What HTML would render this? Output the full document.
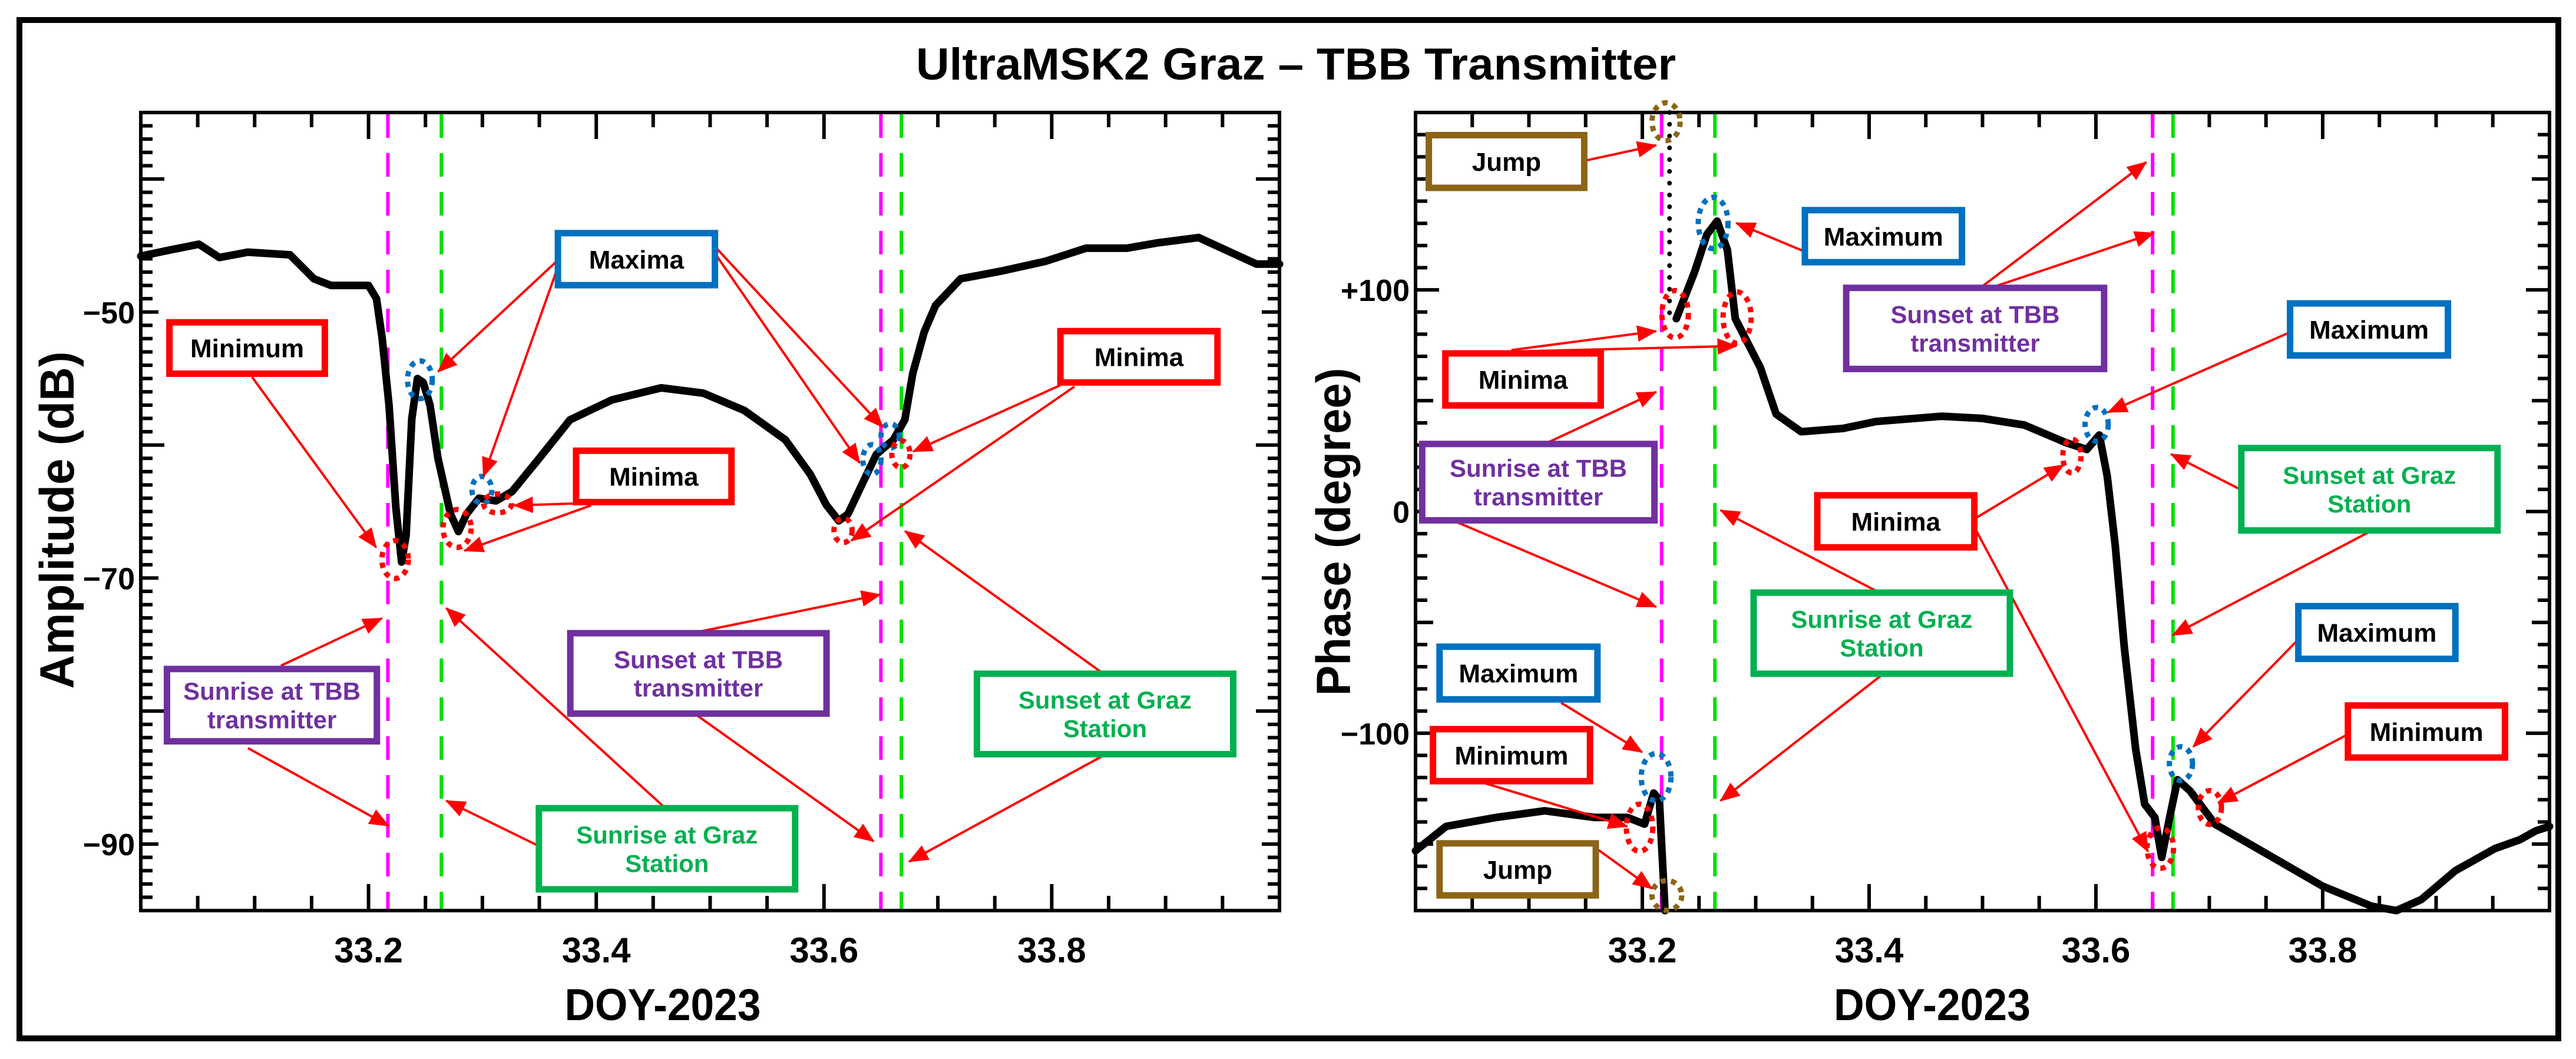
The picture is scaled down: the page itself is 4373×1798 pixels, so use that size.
<!DOCTYPE html>
<html><head><meta charset="utf-8"><style>
html,body{margin:0;padding:0;background:#fff}
svg{display:block}
text{font-family:"Liberation Sans",sans-serif;font-weight:bold}
</style></head><body>
<svg id="s" width="4373" height="1798" viewBox="0 0 4373 1798" xmlns="http://www.w3.org/2000/svg">
<defs><marker id="ah" markerWidth="8" markerHeight="8" refX="7" refY="4" orient="auto" markerUnits="userSpaceOnUse" viewBox="0 0 8 8"><path d="M0,0 L8,4 L0,8 z" fill="#ff0000"/></marker>
<marker id="ah2" markerWidth="34" markerHeight="28" refX="32" refY="14" orient="auto" markerUnits="userSpaceOnUse"><path d="M0,0 L34,14 L0,28 z" fill="#ff0000"/></marker></defs>
<rect x="33" y="34" width="4310" height="1729" fill="none" stroke="#000" stroke-width="10"/>
<text x="2200" y="135" text-anchor="middle" font-size="76" textLength="1290" lengthAdjust="spacingAndGlyphs">UltraMSK2 Graz – TBB Transmitter</text>
<g id="g"></g>
</svg>
<script>
// ---- data ----
const ampDoy=[33.0,33.022,33.051,33.069,33.094,33.131,33.152,33.167,33.2,33.207,33.212,33.218,33.224,33.229,33.233,33.238,33.243,33.248,33.254,33.261,33.272,33.279,33.286,33.297,33.312,33.326,33.348,33.377,33.414,33.457,33.494,33.53,33.566,33.588,33.602,33.613,33.621,33.632,33.646,33.661,33.671,33.678,33.688,33.698,33.72,33.757,33.794,33.83,33.866,33.893,33.929,33.962,33.98,34.0];
const ampDb=[-45.8,-45.4,-44.9,-45.9,-45.5,-45.7,-47.5,-48,-48,-49,-52,-57,-64.7,-68.8,-66.8,-58,-55,-55.3,-57,-61,-65.2,-66.5,-65.2,-64,-64.2,-63.5,-61.2,-58.1,-56.6,-55.7,-56.1,-57.4,-59.6,-62.2,-64.5,-65.7,-65.2,-63.2,-60.7,-59.6,-58.1,-54.6,-51.5,-49.5,-47.5,-46.9,-46.2,-45.2,-45.2,-44.8,-44.4,-45.7,-46.4,-46.4];
const phDoyA=[33.0,33.027,33.071,33.114,33.158,33.187,33.202,33.21,33.215,33.22];
const phDegA=[-153,-142,-138,-135,-138,-138,-141,-127,-130,-181];
const phDoyB=[33.23,33.246,33.257,33.266,33.275,33.282,33.293,33.304,33.318,33.34,33.377,33.406,33.464,33.5,33.537,33.574,33.592,33.603,33.61,33.617,33.625,33.635,33.643,33.652,33.658,33.665,33.672,33.683,33.705,33.756,33.8,33.843,33.865,33.887,33.917,33.952,33.974,33.988,34.0];
const phDegB=[87,108,125,131,118,87,76,65,44,36,37.5,40.6,43,42,39,31,28,34.5,16,-15,-61,-107,-132,-138,-156,-138,-121,-126,-141,-156,-169,-178,-181,-175,-162,-152,-148,-144,-142];
const jumpDoy=[33.224,33.224];
const jumpDeg=[180,88];
const xTickLabels=["33.2","33.4","33.6","33.8"];
const xTickVals=[33.2,33.4,33.6,33.8];
const ampTickVals=[-50,-70,-90];
const ampTickLabels=["−50","−70","−90"];
const phTickVals=[100,0,-100];
const phTickLabels=["+100","0","−100"];
const sunriseTBB=33.217, sunriseGraz=33.264, sunsetTBB=33.650, sunsetGraz=33.668;

const NS="http://www.w3.org/2000/svg";
const G=document.getElementById('g');
function mk(tag,attrs,parent){const e=document.createElementNS(NS,tag);for(const k in attrs)e.setAttribute(k,attrs[k]);(parent||G).appendChild(e);return e;}

const P={
 amp:{x0:239,x1:2172,y0:191,y1:1546,v0:-35,v1:-95},
 ph:{x0:2403,x1:4328,y0:191,y1:1546,v0:180,v1:-180}
};
function sx(p,d){return p.x0+(d-33)/(1)*(p.x1-p.x0);}
function sy(p,v){return p.y0+(v-p.v0)/(p.v1-p.v0)*(p.y1-p.y0);}

function axes(p,name,minorStep,medStep,majorStep){
 const g=mk('g',{});
 
 
 mk('rect',{x:p.x0,y:p.y0,width:p.x1-p.x0,height:p.y1-p.y0,fill:'none',stroke:'#000','stroke-width':6},g);
 let d='';
 for(let i=0;i<=20;i++){const x=p.x0+i*(p.x1-p.x0)/20;const L=(i%4===0)?45:25;d+=`M${x},${p.y1}v${-L}M${x},${p.y0}v${L}`;}
 const lo=Math.min(p.v0,p.v1),hi=Math.max(p.v0,p.v1);
 for(let v=Math.ceil(lo/minorStep)*minorStep;v<=hi;v+=minorStep){
  const y=sy(p,v);let L=20;
  if(Math.abs(v%majorStep)<1e-6)L=40;else if(Math.abs(v%medStep)<1e-6)L=30;
  d+=`M${p.x0},${y}h${L}M${p.x1},${y}h${-L}`;
 }
 mk('path',{d:d,stroke:'#000','stroke-width':6,fill:'none'},g);
}
axes(P.amp,'amplitude',1,10,20);
axes(P.ph,'phase',10,50,100);

function ticklabels(p,pre,yVals,yLabs){
 xTickVals.forEach((v,i)=>{const t=mk('text',{x:sx(p,v),y:1634,'text-anchor':'middle','font-size':60});t.textContent=xTickLabels[i];
  
  });
 yVals.forEach((v,i)=>{const t=mk('text',{x:p.x0-10,y:sy(p,v)+19,'text-anchor':'end','font-size':52});t.textContent=yLabs[i];
  
  });
}
ticklabels(P.amp,'amplitude',ampTickVals,ampTickLabels);
ticklabels(P.ph,'phase',phTickVals,phTickLabels);

function label(x,y,txt,rot,len,name,size){
 const t=mk('text',{x:x,y:y,'text-anchor':'middle','font-size':size,textLength:len,lengthAdjust:'spacingAndGlyphs'});
 if(rot)t.setAttribute('transform',`rotate(-90 ${x} ${y})`);
 t.textContent=txt;
 
 
}
label(125,883,'Amplitude (dB)',true,573,'amplitude-y-axis-title',82);
label(2292,903,'Phase (degree)',true,557,'phase-y-axis-title',82);
label(1125,1732,'DOY-2023',false,333,'amplitude-x-axis-title',76);
label(3280,1732,'DOY-2023',false,334,'phase-x-axis-title',76);

// day/night lines
[[P.amp,'amplitude'],[P.ph,'phase']].forEach(([p,n])=>{
 [[sunriseTBB,'#ff00ff','sunrise-tbb-line'],[sunsetTBB,'#ff00ff','sunset-tbb-line'],[sunriseGraz,'#00e000','sunrise-graz-line'],[sunsetGraz,'#00e000','sunset-graz-line']].forEach(([d,c,nm])=>{
  const l=mk('line',{x1:sx(p,d),x2:sx(p,d),y1:p.y0+3,y2:p.y1-3,stroke:c,'stroke-width':6,'stroke-dasharray':'40 26'});
  
  
 });
});

function series(p,xs,ys,name,extra){
 const d=xs.map((x,i)=>(i?'L':'M')+sx(p,x).toFixed(1)+','+sy(p,Math.max(Math.min(ys[i],p.v0),p.v1)).toFixed(1)).join('');
 const e=mk('path',Object.assign({d:d,fill:'none',stroke:'#000','stroke-width':13,'stroke-linejoin':'round','stroke-linecap':'round'},extra||{}));
 
 
}
series(P.amp,ampDoy,ampDb,'amplitude-line');
series(P.ph,phDoyA,phDegA,'phase-line-before-jump');
series(P.ph,phDoyB,phDegB,'phase-line-after-jump');
series(P.ph,jumpDoy,jumpDeg,'phase-jump-dots',{'stroke-width':8,'stroke-dasharray':'0 20'});

// annotations (coords measured in zoom views)
function L(x,y){return [x/0.7127,y/0.8716];}
function R(x,y){return [2173+x/0.7127,y/0.8716];}
const COL={red:'#ff0000',blue:'#0070c0',green:'#00b050',purple:'#7030a0',brown:'#8c6418'};
const TXT={red:'#000',blue:'#000',brown:'#000',green:'#00b050',purple:'#7030a0'};
function box(f,x1,y1,x2,y2,col,lines,name){
 const a=f(x1,y1),b=f(x2,y2);
 const g=mk('g',{});
 
 
 mk('rect',{x:a[0],y:a[1],width:b[0]-a[0],height:b[1]-a[1],fill:'#fff',stroke:COL[col],'stroke-width':11},g);
 const cx=(a[0]+b[0])/2,cy=(a[1]+b[1])/2;
 const fs=lines.length>1?42:44;
 lines.forEach((s,i)=>{const t=mk('text',{x:cx,y:cy+fs*0.36+(i-(lines.length-1)/2)*fs*1.15,'text-anchor':'middle','font-size':fs,fill:TXT[col]},g);t.textContent=s;});
}
function arrow(f,x1,y1,x2,y2){
 const a=f(x1,y1),b=f(x2,y2);
 const l=mk('line',{x1:a[0],y1:a[1],x2:b[0],y2:b[1],stroke:'#ff0000','stroke-width':4,'marker-end':'url(#ah2)'});
 
 
}
function ring(f,x,y,rx,ry,col){
 const a=f(x,y);
 const e=mk('ellipse',{cx:a[0],cy:a[1],rx:rx/0.7127,ry:ry/0.8716,fill:'none',stroke:col,'stroke-width':9,'stroke-dasharray':'9 9'});
 
 
}
// left rings
ring(L,478,828,16,28,'#ff0000');ring(L,508,562,15,28,'#0070c0');ring(L,583,725,12,20,'#0070c0');
ring(L,553,782,17,28,'#ff0000');ring(L,602,745,17,14,'#ff0000');ring(L,1055,680,11,22,'#0070c0');
ring(L,1077,645,11,18,'#0070c0');ring(L,1090,672,11,20,'#ff0000');ring(L,1020,785,11,18,'#ff0000');
// right rings
ring(R,467,180,17,28,'#8c6418');ring(R,478,465,16,35,'#ff0000');ring(R,524,330,18,38,'#0070c0');
ring(R,553,470,17,38,'#ff0000');ring(R,988,628,14,25,'#0070c0');ring(R,958,675,11,25,'#ff0000');
ring(R,455,1150,18,35,'#0070c0');ring(R,435,1225,16,35,'#ff0000');ring(R,468,1325,18,22,'#8c6418');
ring(R,1065,1255,16,30,'#ff0000');ring(R,1090,1130,14,25,'#0070c0');ring(R,1125,1195,14,25,'#ff0000');

// left arrows
[[305,558,455,810],[675,385,530,550],[675,395,585,705],[865,365,1068,632],[865,375,1040,685],
 [697,745,622,748],[715,748,562,815],[1283,570,1105,668],[1300,572,1030,800],[340,985,462,915],
 [300,1107,470,1222],[845,935,1065,880],[830,1047,1057,1245],[1335,997,1095,786],[1335,1118,1100,1275],
 [805,1196,540,900],[652,1252,540,1185]].forEach(a=>arrow(L,...a));
// right arrows
[[368,238,455,215],[382,1255,450,1315],[640,375,552,330],[845,428,1048,240],[850,430,1057,345],
 [280,518,455,490],[290,520,552,512],[1225,490,1002,610],[315,660,455,580],[205,768,455,898],
 [840,768,948,688],[840,780,1050,1260],[1163,725,1078,672],[1318,787,1080,940],[730,880,533,755],
 [730,997,533,1185],[340,1040,438,1113],[1237,940,1105,1105],[245,1158,420,1223],[1290,1088,1135,1188]].forEach(a=>arrow(R,...a));

// left boxes
box(L,205,477,393,553,'red',['Minimum'],'minimum-box');
box(L,675,345,865,422,'blue',['Maxima'],'maxima-box');
box(L,697,667,885,743,'red',['Minima'],'minima-box-mid');
box(L,1283,490,1473,566,'red',['Minima'],'minima-box-right');
box(L,202,990,456,1097,'purple',['Sunrise at TBB','transmitter'],'sunrise-tbb-box');
box(L,690,937,1000,1056,'purple',['Sunset at TBB','transmitter'],'sunset-tbb-box');
box(L,1182,997,1492,1116,'green',['Sunset at Graz','Station'],'sunset-graz-box');
box(L,652,1196,962,1316,'green',['Sunrise at Graz','Station'],'sunrise-graz-box');
// right boxes
box(R,180,200,368,278,'brown',['Jump'],'jump-box-top');
box(R,635,311,825,388,'blue',['Maximum'],'maximum-box-top');
box(R,685,426,997,546,'purple',['Sunset at TBB','transmitter'],'phase-sunset-tbb-box');
box(R,200,523,388,600,'red',['Minima'],'phase-minima-box-left');
box(R,1222,449,1413,526,'blue',['Maximum'],'maximum-box-right');
box(R,172,657,453,770,'purple',['Sunrise at TBB','transmitter'],'phase-sunrise-tbb-box');
box(R,650,733,840,810,'red',['Minima'],'phase-minima-box-mid');
box(R,1163,663,1473,785,'green',['Sunset at Graz','Station'],'phase-sunset-graz-box');
box(R,573,877,883,997,'green',['Sunrise at Graz','Station'],'phase-sunrise-graz-box');
box(R,193,957,384,1035,'blue',['Maximum'],'maximum-box-lower-left');
box(R,1232,897,1422,975,'blue',['Maximum'],'maximum-box-lower-right');
box(R,185,1079,375,1156,'red',['Minimum'],'minimum-box-lower-left');
box(R,1292,1044,1482,1121,'red',['Minimum'],'minimum-box-lower-right');
box(R,193,1248,382,1325,'brown',['Jump'],'jump-box-bottom');
</script>
</body></html>
